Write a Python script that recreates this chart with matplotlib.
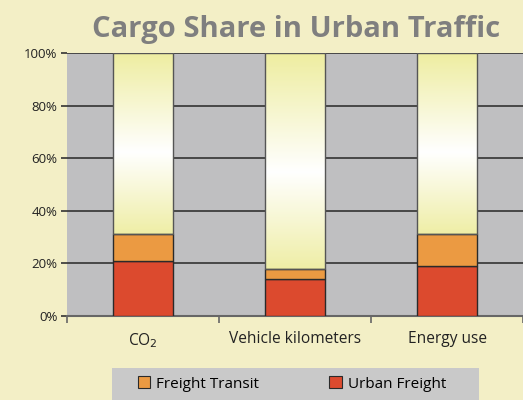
import matplotlib
matplotlib.use("Agg")
import matplotlib.pyplot as plt
import numpy as np
from matplotlib.colors import LinearSegmentedColormap
from matplotlib.patches import Rectangle

categories = ["CO$_2$", "Vehicle kilometers", "Energy use"]
urban_freight = [21, 14, 19]
freight_transit = [10, 4, 12]
total = [100, 100, 100]
yticks = [0, 20, 40, 60, 80, 100]
ytick_labels = ["0%", "20%", "40%", "60%", "80%", "100%"]

BG = "#f3efc6"
PLOT_BG = "#bfbfc1"
RED = "#dc4a2e"
ORANGE = "#eb9a42"
EDGE = "#2a2a2a"

fig = plt.figure(figsize=(5.23, 4.0), dpi=100, facecolor=BG)
ax = fig.add_axes([67/523, 84/400, 456/523, 263/400])
ax.set_facecolor(PLOT_BG)

x = np.arange(len(categories))
w = 0.4
ax.set_xlim(-0.5, 2.5)
ax.set_ylim(0, 100)

for v in yticks[1:]:
    ax.axhline(v, color="#333333", lw=1.2, zorder=1)

ax.bar(x, urban_freight, w, color=RED, edgecolor=EDGE, lw=1.0, zorder=3)
ax.bar(x, freight_transit, w, bottom=urban_freight, color=ORANGE, edgecolor=EDGE, lw=1.0, zorder=3)

cmap = LinearSegmentedColormap.from_list("g", [(0, "#efeea6"), (0.45, "#ffffff"), (1.0, "#eeeda0")])
for xi, u, f, t in zip(x, urban_freight, freight_transit, total):
    b = u + f
    grad = np.linspace(0, 1, 256).reshape(-1, 1)
    ax.imshow(grad, cmap=cmap, aspect="auto", origin="lower",
              extent=(xi - w/2, xi + w/2, b, t), zorder=2)
    ax.add_patch(Rectangle((xi - w/2, b), w, t - b, fill=False, edgecolor="#555555", lw=1.0, zorder=3))

ax.set_xlim(-0.5, 2.5)
ax.set_ylim(0, 100)
ax.set_yticks(yticks)
ax.set_yticklabels(ytick_labels, fontsize=9.5, color="#222222", fontfamily="Open Sans")
ax.tick_params(axis="y", length=4, width=1.2, color="#333333", pad=3)
ax.set_xticks(x)
ax.set_xticklabels(categories, fontsize=11.2, color="#222222", fontfamily="Open Sans")
ax.tick_params(axis="x", length=0, pad=11)
ax.set_xticks([-0.5, 0.5, 1.5, 2.5], minor=True)
ax.tick_params(axis="x", which="minor", length=5, width=1.2, color="#666666")
for s in ["top", "right", "left"]:
    ax.spines[s].set_visible(False)
ax.spines["bottom"].set_color("#666666")
ax.spines["bottom"].set_linewidth(1.5)

fig.text(0.566, 0.925, "Cargo Share in Urban Traffic", ha="center", va="center",
         fontsize=21, fontweight="bold", color="#7f7f7f", fontfamily="Open Sans")

fig.patches.append(Rectangle((112/523, 0), (479-112)/523, 32/400, transform=fig.transFigure,
                             facecolor="#c9c9c9", edgecolor="none", zorder=0))
handles = [Rectangle((0, 0), 1, 1, facecolor=ORANGE, edgecolor=EDGE, lw=0.8),
           Rectangle((0, 0), 1, 1, facecolor=RED, edgecolor=EDGE, lw=0.8)]
fig.legend(handles, ["Freight Transit", "Urban Freight"], loc="center left",
           bbox_to_anchor=(124/523, 16/400), ncol=2, frameon=False,
           prop={"family": "Open Sans", "size": 11}, handlelength=0.8, handleheight=0.8,
           handletextpad=0.4, columnspacing=4.6)

fig.savefig("out.png", dpi=100, facecolor=BG)
